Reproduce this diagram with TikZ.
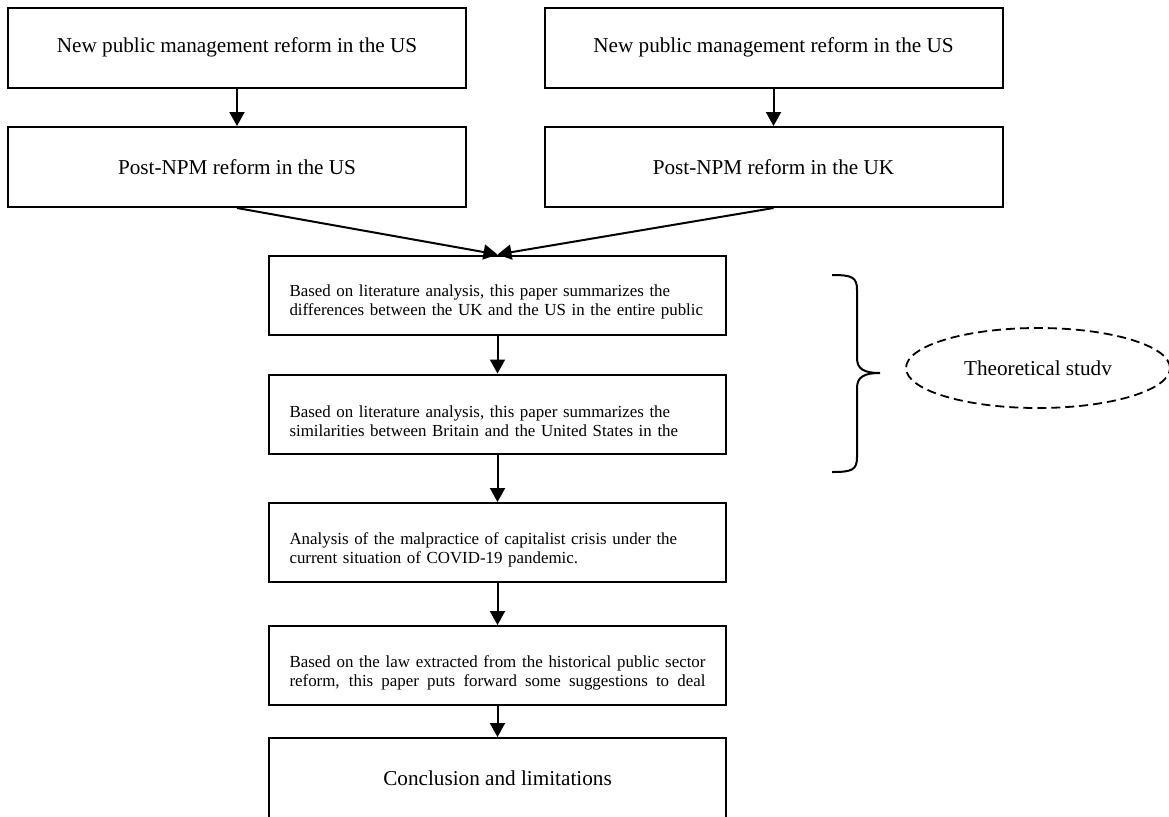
\documentclass[tikz,border=0pt]{standalone}
\usepackage{fontspec}
\setmainfont{Liberation Serif}
\usetikzlibrary{arrows.meta,shapes.geometric}

\begin{document}
\begin{tikzpicture}[x=0.5pt,y=-0.5pt,
    bigbox/.style={draw,line width=1pt,minimum width=229pt,minimum height=40pt,inner sep=0pt,
        font=\fontsize{10.6pt}{12.7pt}\selectfont},
    smallbox/.style={draw,line width=1pt,minimum width=228.5pt,minimum height=39.5pt,
        inner xsep=10pt,inner ysep=0pt,text width=208pt,align=left,
        font=\fontsize{8.45pt}{9.6pt}\selectfont,execute at begin node={\rule{0pt}{13pt}}},
    flowarrow/.style={line width=1pt,-{Triangle[length=7pt,width=7.5pt]}}]
    \clip (0,0) rectangle (1169,816);
    % the two reform tracks
    \node[bigbox] (nmpLeft) at (237,47.5) {New public management reform in the US};
    \node[bigbox] (postUS) at (237,167) {Post-NPM reform in the US};
    \node[bigbox] (nmpRight) at (773.5,47.5) {New public management reform in the US};
    \node[bigbox] (postUK) at (773.5,167) {Post-NPM reform in the UK};
    % main column
    \node[smallbox] (diff) at (497.5,295) {\mbox{Based on literature analysis, this paper summarizes the}\\
        \mbox{differences between the UK and the US in the entire public}};
    \node[smallbox] (simil) at (497.5,414) {\mbox{Based on literature analysis, this paper summarizes the}\\
        \mbox{similarities between Britain and the United States in the}};
    \node[smallbox] (crisis) at (497.5,542.5) {\mbox{Analysis of the malpractice of capitalist crisis under the}\\
        \mbox{current situation of COVID-19 pandemic.}};
    \node[smallbox,align=justify] (suggest) at (497.5,665.5) {\parfillskip=0pt \hyphenpenalty=10000
        Based on the law extracted from the historical public sector\linebreak
        reform, this paper puts forward some suggestions to deal\par};
    \node[bigbox,minimum width=228.5pt] (concl) at (497.5,778) {Conclusion and limitations};
    % side note
    \node[ellipse,draw,dashed,dash pattern=on 4.5pt off 2.5pt,line width=0.9pt,
        minimum width=132pt,minimum height=40pt,inner sep=0pt,
        font=\fontsize{10.6pt}{12.7pt}\selectfont] (theory) at (1038,368) {Theoretical studv};
    \draw[line width=1pt] (832,275) .. controls (852,275) and (857,277) .. (857,290) -- (857,358)
        .. controls (857,369) and (864,373) .. (880,373)
        .. controls (864,373) and (857,377) .. (857,388) -- (857,457)
        .. controls (857,470) and (852,472) .. (832,472);
    % arrows
    \draw[flowarrow] (nmpLeft) -- (postUS);
    \draw[flowarrow] (nmpRight) -- (postUK);
    \draw[flowarrow] (postUS.south) -- (diff.north);
    \draw[flowarrow] (postUK.south) -- (diff.north);
    \draw[flowarrow] (diff) -- (simil);
    \draw[flowarrow] (simil) -- (crisis);
    \draw[flowarrow] (crisis) -- (suggest);
    \draw[flowarrow] (suggest) -- (concl);
\end{tikzpicture}
\end{document}
